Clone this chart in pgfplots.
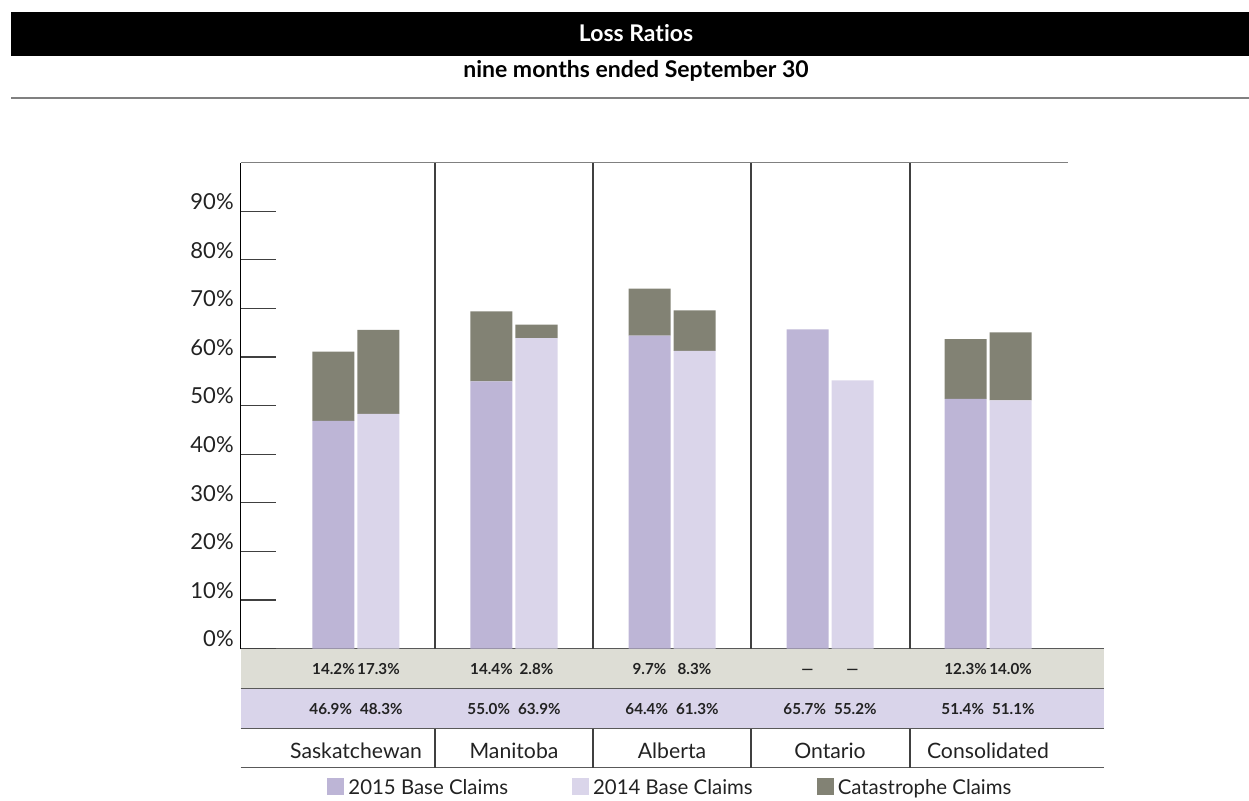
\documentclass[border=0pt]{standalone}
\usepackage{fontspec}
\setmainfont{Lato}[Ligatures={TeX,NoCommon}]
\usepackage{pgfplots}
\pgfplotsset{compat=1.18}
\usepackage{pgfplotstable}
\definecolor{cA}{HTML}{BDB5D6}
\definecolor{cB}{HTML}{DAD5EA}
\definecolor{cC}{HTML}{828274}
\definecolor{bandG}{HTML}{DDDDD5}
\definecolor{bandP}{HTML}{D9D4EA}
\definecolor{txt}{HTML}{222222}

\pgfplotstableread{
x base cat
0 46.9 14.2
1 55.0 14.4
2 64.4 9.7
3 65.7 0
4 51.4 12.3
}\dataA
\pgfplotstableread{
x base cat
0 48.3 17.3
1 63.9 2.8
2 61.3 8.3
3 55.2 0
4 51.1 14.0
}\dataB

\newcommand{\tv}[3]{\node[anchor=base,text=txt,font=\bfseries\fontsize{7.6}{9}\selectfont,inner sep=0pt] at (axis cs:#1,#2) {#3};}

\pgfplotsset{
  sq/.style={legend image code/.code={\fill[##1,draw=none] (0pt,-3pt) rectangle (8.5pt,5.5pt);}},
  common/.style={
    at={(120.35pt,76.15pt)}, anchor=south west, scale only axis,
    width=413.65pt, height=243pt,
    xmin=-0.7297, xmax=4.5063, ymin=0, ymax=100,
    ybar stacked, bar width=21pt, clip=false,
  }
}

\begin{document}
\begin{tikzpicture}[x=0.5pt,y=0.5pt]
\path[use as bounding box] (0,0) rectangle (1249,801);
% title band
\fill[black] (11,745) rectangle (1249,789);
\node[anchor=base,white,font=\bfseries\fontsize{11.5}{14}\selectfont] at (636,759.3) {Loss Ratios};
\node[anchor=base,black,font=\bfseries\fontsize{11.5}{14}\selectfont] at (636,723) {nine months ended September 30};
\draw[black!50, line width=1pt] (11,702.7) -- (1249,702.7);
% table bands
\fill[bandG] (240.7,112) rectangle (1104,152.3);
\fill[bandP] (240.7,72) rectangle (1104,112);
\foreach \yy in {152.3,112,72,33} \draw[black!65, line width=0.5pt] (240.7,\yy) -- (1104,\yy);
% separators
\foreach \xx in {435,593,751,910} {
  \draw[black!75, line width=0.6pt] (\xx,638.3) -- (\xx,152.3);
  \draw[black!75, line width=0.6pt] (\xx,72) -- (\xx,33);
}
% axis frame lines
\draw[black, line width=0.6pt] (240.7,152.3) -- (240.7,638.3);
\draw[black!50, line width=0.8pt] (240.7,638.3) -- (1068,638.3);

\begin{axis}[common,
  axis line style={draw=none},
  xtick={0,...,4},
  xticklabels={Saskatchewan,Manitoba,Alberta,Ontario,Consolidated},
  xtick style={draw=none},
  xticklabel style={anchor=base, yshift=-54.8pt, text=txt, font=\fontsize{10.6}{13}\selectfont},
  ytick={0,10,...,90}, ytick pos=left, tick align=inside,
  major tick length=17.7pt,
  ytick style={black!75, line width=0.6pt},
  yticklabel={\pgfmathprintnumber{\tick}\%},
  yticklabel style={yshift=4.8pt, text=txt, font=\fontsize{11}{13}\selectfont, /pgf/number format/assume math mode=true},
]
\addplot[fill=cA, draw=none, bar shift=-11.25pt] table[x=x,y=base]{\dataA};
\addplot[fill=cC, draw=none, bar shift=-11.25pt] table[x=x,y=cat]{\dataA};
\end{axis}

\begin{axis}[common, hide axis,
  legend style={at={(axis description cs:0.5207,-0.288)}, anchor=center, draw=none, fill=none,
    legend columns=3, font=\fontsize{10.2}{12}\selectfont, text=txt,
    /tikz/every even column/.append style={column sep=30pt}},
  legend cell align=left,
]
\addlegendimage{sq, fill=cA}
\addlegendentry{2015 Base Claims}
\addplot[sq, fill=cB, draw=none, bar shift=11.25pt] table[x=x,y=base]{\dataB};
\addlegendentry{2014 Base Claims}
\addplot[sq, fill=cC, draw=none, bar shift=11.25pt] table[x=x,y=cat]{\dataB};
\addlegendentry{Catastrophe Claims}
% catastrophe row
\tv{-0.1424}{-5.41}{14.2\%}
\tv{0.1424}{-5.41}{17.3\%}
\tv{0.8576}{-5.41}{14.4\%}
\tv{1.1424}{-5.41}{2.8\%}
\tv{1.8576}{-5.41}{9.7\%}
\tv{2.1424}{-5.41}{8.3\%}
\tv{2.8576}{-5.41}{\textemdash}
\tv{3.1424}{-5.41}{\textemdash}
\tv{3.8576}{-5.41}{12.3\%}
\tv{4.1424}{-5.41}{14.0\%}
% base row
\tv{-0.16}{-13.64}{46.9\%}
\tv{0.16}{-13.64}{48.3\%}
\tv{0.84}{-13.64}{55.0\%}
\tv{1.16}{-13.64}{63.9\%}
\tv{1.84}{-13.64}{64.4\%}
\tv{2.16}{-13.64}{61.3\%}
\tv{2.84}{-13.64}{65.7\%}
\tv{3.16}{-13.64}{55.2\%}
\tv{3.84}{-13.64}{51.4\%}
\tv{4.16}{-13.64}{51.1\%}
\end{axis}
\end{tikzpicture}
\end{document}
